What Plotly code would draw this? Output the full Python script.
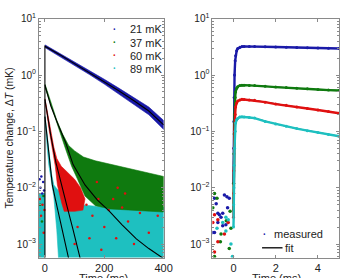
import plotly.graph_objects as go
from plotly.subplots import make_subplots

# ---------------- data ----------------
names = ["21 mK", "37 mK", "60 mK", "89 mK"]
colors = ["#1a1aa8", "#0f7a0f", "#e01010", "#1ec0c0"]

# Left panel: measured decays drawn as dense bands (boundary polygons, t in ms, dT in mK)
blue_band_t = [0, 50, 100, 150, 200, 250, 300, 350, 400, 400, 350, 300, 250, 200, 150, 100, 50, 0]
blue_band_v = [3.44, 2.44, 1.71, 1.19, 0.84, 0.58, 0.40, 0.27, 0.156,
               0.108, 0.197, 0.30, 0.46, 0.69, 1.02, 1.49, 2.17, 3.07]

green_band_t = [0.3, 20, 40, 60, 80, 100, 130, 170, 250, 330, 400,
                400, 300, 220, 170, 135, 110, 90, 70, 50, 30, 10, 0.3]
green_band_v = [0.69, 0.316, 0.158, 0.089, 0.056, 0.045, 0.035, 0.03, 0.024, 0.019, 0.0158,
                0.0037, 0.0040, 0.0042, 0.0048, 0.0071, 0.0141, 0.024, 0.0479, 0.1, 0.2, 0.417, 0.603]

red_band_t = [0.3, 10, 20, 30, 40, 55, 75, 100, 120, 135, 128, 100, 75, 65, 57, 42, 35, 25, 15, 5, 0.3]
red_band_v = [0.38, 0.19, 0.1, 0.0525, 0.0331, 0.024, 0.019, 0.0141, 0.01, 0.0063, 0.0040,
              0.0038, 0.0038, 0.0038, 0.00525, 0.0112, 0.024, 0.0479, 0.1, 0.24, 0.331]

cyan_band_t = [0.5, 5, 10, 16, 22, 30, 45, 60, 80, 120, 200, 300, 400, 400,
               46, 46, 40, 30, 20, 13, 8, 4, 0.5, None,
               -20, -0.6, -0.6, -20]
cyan_band_v = [0.19, 0.112, 0.063, 0.0316, 0.0178, 0.0112, 0.0089, 0.0071, 0.0056, 0.005, 0.0045, 0.0045, 0.0045, 0.0003,
               0.0003, 0.00055, 0.0018, 0.0069, 0.0158, 0.0257, 0.05, 0.089, 0.158, None,
               0.0079, 0.0079, 0.0003, 0.0003]

# sparse noise points (left panel)
red_noise_t = [140, 160, 180, 200, 215, 240, 260, 280, 300, 320, 350, 380, 150, 110, 100, 230, 270, 190, 175, 245]
red_noise_v = [0.005, 0.00316, 0.0063, 0.002, 0.004, 0.00126, 0.00447, 0.0025, 0.001, 0.00355,
               0.00158, 0.00316, 0.00126, 0.002, 0.001, 0.0063, 0.0079, 0.00079, 0.0126, 0.01]
pre_t = {
    "21 mK": [-18, -15, -12, -9, -6, -3],
    "37 mK": [-16, -10, -5],
    "60 mK": [-17, -13, -8, -4, -2],
    "89 mK": [-14, -7],
}
pre_v = {
    "21 mK": [0.0141, 0.01, 0.0158, 0.0079, 0.0126, 0.0089],
    "37 mK": [0.005, 0.0025, 0.0071],
    "60 mK": [0.0063, 0.00316, 0.005, 0.00158, 0.004],
    "89 mK": [0.0045, 0.0022],
}

# Left panel fits
fit_t = {
    "21 mK": [0, 0, 50, 100, 150, 200, 250, 300, 350, 400],
    "37 mK": [0, 20, 46, 70, 95, 135, 177, 216, 260, 308, 350, 400],
    "60 mK": [0, 10, 20, 37, 55, 73, 95, 117, 130],
    "89 mK": [0, 5, 10, 16, 25, 35, 46, 60, 79, 90],
}
fit_v = {
    "21 mK": [0.00001, 3.25, 2.3, 1.6, 1.1, 0.76, 0.52, 0.35, 0.23, 0.13],
    "37 mK": [0.66, 0.282, 0.126, 0.063, 0.0257, 0.0112, 0.00603, 0.00389, 0.00219, 0.00123, 0.00083, 0.00055],
    "60 mK": [0.37, 0.166, 0.083, 0.0282, 0.0112, 0.0050, 0.00178, 0.00056, 0.00032],
    "89 mK": [0.182, 0.1, 0.05, 0.0257, 0.0112, 0.0063, 0.00355, 0.00158, 0.00056, 0.00032],
}

# Right panel (zoom on the rise), t in ms
rt = [0, 0.01, 0.02, 0.03, 0.05, 0.08, 0.1, 0.15, 0.2, 0.3, 0.4, 0.5, 0.75, 1, 1.5, 2, 2.5, 3, 3.5, 4, 4.5, 5]
r_meas = {
    "21 mK": [0.012, 0.05, 0.15, 0.4, 1.0, 1.8, 2.2, 2.7, 2.95, 3.1, 3.2, 3.22, 3.22, 3.2, 3.18, 3.15, 3.12, 3.08, 3.05, 3.02, 2.99, 2.95],
    "37 mK": [0.004, 0.012, 0.04, 0.09, 0.2, 0.4, 0.5, 0.58, 0.62, 0.65, 0.66, 0.66, 0.655, 0.65, 0.63, 0.61, 0.6, 0.58, 0.57, 0.555, 0.54, 0.53],
    "60 mK": [0.003, 0.008, 0.02, 0.05, 0.1, 0.2, 0.27, 0.32, 0.345, 0.36, 0.37, 0.368, 0.36, 0.355, 0.33, 0.305, 0.29, 0.27, 0.255, 0.24, 0.225, 0.21],
    "89 mK": [0.002, 0.005, 0.01, 0.025, 0.05, 0.1, 0.14, 0.16, 0.17, 0.18, 0.182, 0.18, 0.176, 0.172, 0.15, 0.135, 0.123, 0.112, 0.103, 0.095, 0.088, 0.082],
}
rfit_t = [0, 0.02, 0.05, 0.1, 0.2, 0.3, 0.5, 1, 2, 3, 4, 5]
r_fit = {
    "21 mK": [0.0022, 0.15, 0.9, 2.2, 2.95, 3.1, 3.2, 3.2, 3.15, 3.08, 3.02, 2.95],
    "37 mK": [0.0022, 0.03, 0.2, 0.5, 0.62, 0.65, 0.66, 0.65, 0.61, 0.58, 0.55, 0.53],
    "60 mK": [0.0022, 0.02, 0.1, 0.27, 0.345, 0.36, 0.37, 0.355, 0.305, 0.27, 0.24, 0.21],
    "89 mK": [0.0022, 0.01, 0.05, 0.14, 0.17, 0.18, 0.182, 0.172, 0.135, 0.112, 0.095, 0.082],
}
# pre-trigger noise (right panel)
r_pre_t = {
    "21 mK": [-0.43, -0.31, -0.2, -0.9, -0.82, -0.74, -0.67, -0.59, -0.51, -0.98, -0.9, -0.36, -0.51, -0.28, -0.74],
    "37 mK": [-0.9, -0.78, -0.98, -0.16, -0.34, -0.12, -0.2, -0.62, -0.9, -0.59],
    "60 mK": [-0.9, -0.98, -0.74, -0.74, -0.9, -0.25, -0.43],
    "89 mK": [-0.36, -0.25, -0.51, -0.12, -0.36, -0.05, -0.78],
}
r_pre_v = {
    "21 mK": [0.0074, 0.0069, 0.0065, 0.0065, 0.0052, 0.0035, 0.0033, 0.003, 0.0035, 0.0016, 0.0016, 0.0022, 0.0021, 0.0044, 0.0024],
    "37 mK": [0.0079, 0.0065, 0.0044, 0.0038, 0.0026, 0.0019, 0.00083, 0.0011, 0.0006, 0.0015],
    "60 mK": [0.0033, 0.0024, 0.0027, 0.0011, 0.00072, 0.0024, 0.0015],
    "89 mK": [0.003, 0.0027, 0.0024, 0.001, 0.0017, 0.0006, 0.0019],
}

ytick_vals = [1e-3, 1e-2, 1e-1, 1, 10]
ytick_text = ["10<sup>−3</sup>", "10<sup>−2</sup>", "10<sup>−1</sup>", "10<sup>0</sup>", "10<sup>1</sup>"]
x1_ticks = [0, 200, 400]
x2_ticks = [0, 2, 4]

# ---------------- figure ----------------
W, H = 349, 278
fig = make_subplots(rows=1, cols=2)
FONT = "Liberation Sans, Arial, sans-serif"

bands = [(cyan_band_t, cyan_band_v, colors[3]), (red_band_t, red_band_v, colors[2]),
         (green_band_t, green_band_v, colors[1]), (blue_band_t, blue_band_v, colors[0])]
for bt, bv, c in bands:
    fig.add_trace(go.Scatter(x=bt, y=bv, mode="lines", fill="toself", fillcolor=c,
                             line=dict(width=0.6, color=c), showlegend=False, hoverinfo="skip"), 1, 1)
fig.add_trace(go.Scatter(x=red_noise_t, y=red_noise_v, mode="markers",
                         marker=dict(size=2.5, color=colors[2]), showlegend=False), 1, 1)
for n, c in zip(names, colors):
    fig.add_trace(go.Scatter(x=pre_t[n], y=pre_v[n], mode="markers",
                             marker=dict(size=2.5, color=c), showlegend=False), 1, 1)
for n in names:
    fig.add_trace(go.Scatter(x=fit_t[n], y=fit_v[n], mode="lines",
                             line=dict(color="black", width=1.1), showlegend=False), 1, 1)

# right panel
for n in names:
    fig.add_trace(go.Scatter(x=rfit_t, y=r_fit[n], mode="lines",
                             line=dict(color="black", width=1), showlegend=False), 1, 2)
for n, c in zip(names, colors):
    fig.add_trace(go.Scatter(x=rt, y=r_meas[n], mode="lines+markers",
                             line=dict(color=c, width=2.4), marker=dict(size=3, color=c),
                             showlegend=False), 1, 2)
    fig.add_trace(go.Scatter(x=r_pre_t[n], y=r_pre_v[n], mode="markers",
                             marker=dict(size=3.5, color=c), showlegend=False), 1, 2)

axis_common = dict(showline=True, linecolor="#8a8a8a", linewidth=1, mirror="ticks",
                   ticks="inside", ticklen=3, tickcolor="#8a8a8a", showgrid=False, zeroline=False,
                   tickfont=dict(family=FONT, size=11, color="#222"))
fig.update_xaxes(**axis_common)
fig.update_yaxes(**axis_common)
fig.update_xaxes(range=[-20, 400], tickvals=x1_ticks, domain=[40 / W, 168 / W], row=1, col=1)
fig.update_xaxes(range=[-1, 5], tickvals=x2_ticks, domain=[218 / W, 348 / W], row=1, col=2)
ydom = [(H - 257) / H, (H - 12) / H]
for col in (1, 2):
    fig.update_yaxes(type="log", range=[-3.24, 1], tickvals=ytick_vals, ticktext=ytick_text,
                     domain=ydom, tickfont=dict(family=FONT, size=10, color="#222"),
                     minor=dict(ticks="inside", ticklen=2, tickcolor="#8a8a8a", dtick="D1"),
                     row=1, col=col)

ann = []
# axis titles
ann.append(dict(text="Temperature change, Δ<i>T</i> (mK)", x=9 / W, y=1 - 134 / H, xref="paper", yref="paper",
                xanchor="center", yanchor="middle",
                textangle=-90, showarrow=False, font=dict(family=FONT, size=10.5, color="#222")))
for xc in (106, 284):
    ann.append(dict(text="Time (ms)", x=xc / W, y=1 - 278 / H, xref="paper", yref="paper",
                    xanchor="center", yanchor="middle", showarrow=False,
                    font=dict(family=FONT, size=11, color="#222")))
# legend, left panel
for i, (n, c) in enumerate(zip(names, colors)):
    yy = 1 - (23 + 13.5 * i) / H
    ann.append(dict(text="•", x=118 / W, y=yy, xref="paper", yref="paper", showarrow=False,
                    xanchor="center", yanchor="middle", font=dict(size=7, color=c)))
    ann.append(dict(text=n, x=131 / W, y=yy, xref="paper", yref="paper", xanchor="left",
                    yanchor="middle", showarrow=False, font=dict(family=FONT, size=11, color="#222")))
# legend, right panel
ann.append(dict(text="•", x=272 / W, y=1 - 233 / H, xref="paper", yref="paper", showarrow=False,
                xanchor="center", yanchor="middle", font=dict(size=7, color=colors[0])))
ann.append(dict(text="measured", x=279 / W, y=1 - 233 / H, xref="paper", yref="paper", xanchor="left",
                yanchor="middle", showarrow=False, font=dict(family=FONT, size=11, color="#222")))
ann.append(dict(text="fit", x=290 / W, y=1 - 247 / H, xref="paper", yref="paper", xanchor="left",
                yanchor="middle", showarrow=False, font=dict(family=FONT, size=11, color="#222")))

fig.update_layout(
    width=W, height=H, margin=dict(l=0, r=0, t=0, b=0),
    paper_bgcolor="white", plot_bgcolor="white", showlegend=False,
    annotations=ann,
    shapes=[dict(type="line", xref="paper", yref="paper", x0=269 / W, x1=290 / W,
                 y0=1 - 247 / H, y1=1 - 247 / H, line=dict(color="#222", width=1.5))],
)
fig.write_html("out.html")
